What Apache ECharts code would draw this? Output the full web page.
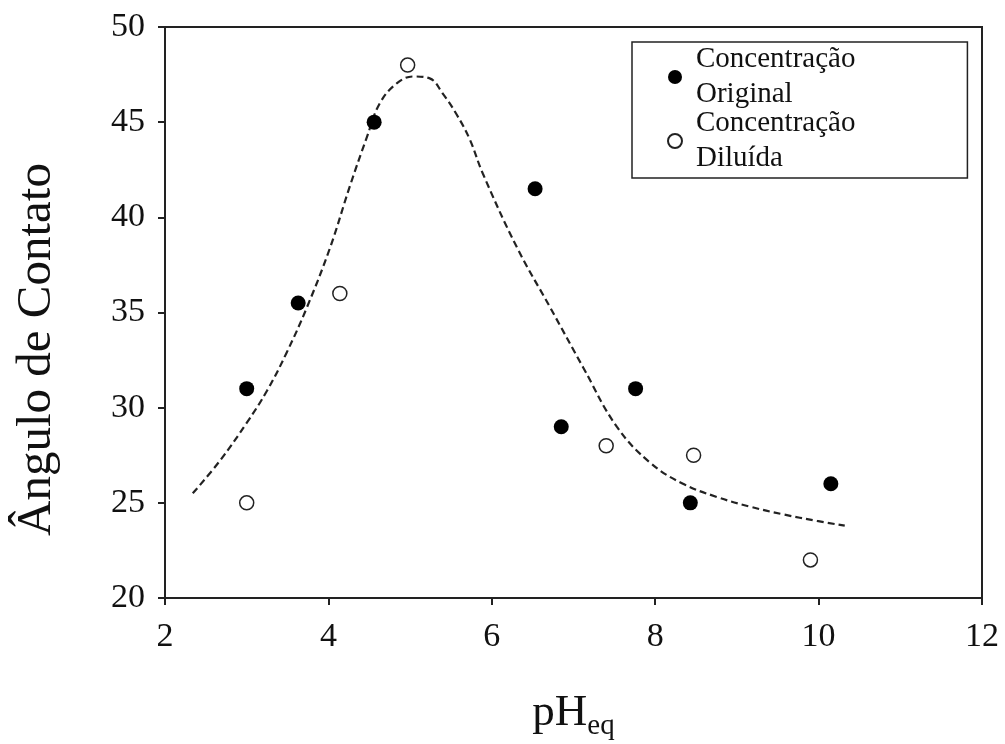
<!DOCTYPE html>
<html>
<head>
<meta charset="utf-8">
<script src="https://cdn.jsdelivr.net/npm/echarts@6/dist/echarts.min.js"></script>
<style>
  html, body { margin: 0; padding: 0; background: #fff; }
  #main { width: 1005px; height: 744px; }
</style>
</head>
<body>
<div id="main"></div>
<script>
// dados
var originalPH = [3.0, 3.63, 4.56, 6.53, 6.85, 7.76, 8.43, 10.15];
var originalAng = [31, 35.5, 45, 41.5, 29, 31, 25, 26];
var diluidaPH = [3.0, 4.14, 4.97, 7.40, 8.47, 9.9];
var diluidaAng = [25, 36, 48, 28, 27.5, 22];
// curva ajustada (tracejada)
var curvaPH = [2.34, 2.67, 3.0, 3.25, 3.49, 3.74, 4.02, 4.26, 4.47, 4.63, 4.84, 5.04, 5.24, 5.40, 5.57, 5.73, 5.89, 6.31, 6.71, 7.12, 7.53, 7.94, 8.34, 8.76, 9.16, 9.56, 9.98, 10.32];
var curvaAng = [25.5, 27.2, 29.2, 30.9, 32.9, 35.3, 38.4, 41.6, 44.2, 46.0, 47.05, 47.4, 47.3, 46.5, 45.4, 44.1, 42.3, 38.4, 35.3, 32.1, 29.0, 27.1, 26.0, 25.3, 24.8, 24.4, 24.05, 23.8];

function pares(xs, ys) {
  var out = [];
  for (var i = 0; i < xs.length; i++) out.push([xs[i], ys[i]]);
  return out;
}

var serif = 'Liberation Serif';
var chart = echarts.init(document.getElementById('main'));
var option = {
  backgroundColor: '#fff',
  animation: false,
  grid: {
    left: 165, right: 23, top: 27, bottom: 146,
    outerBoundsMode: 'none',
    show: true, borderColor: '#222', borderWidth: 2
  },
  legend: {
    orient: 'vertical',
    left: 632, top: 42,
    padding: [0, 112, 2, 35],
    itemGap: -6,
    itemWidth: 14, itemHeight: 14,
    borderColor: '#222', borderWidth: 1.5,
    textStyle: { fontFamily: serif, fontSize: 29, color: '#111', lineHeight: 35, padding: [0, 0, 0, 9] },
    formatter: function (name) {
      return name.replace(' ', '\n');
    },
    data: ['Concentração Original', 'Concentração Diluída']
  },
  xAxis: {
    type: 'value', min: 2, max: 12, interval: 2,
    name: '{a|pH}{b|eq}',
    nameLocation: 'middle', nameGap: 88,
    nameTextStyle: {
      rich: {
        a: { fontFamily: serif, fontSize: 45, color: '#111' },
        b: { fontFamily: serif, fontSize: 29, color: '#111', padding: [26, 0, 0, 0] }
      }
    },
    axisLine: { lineStyle: { color: '#222', width: 2 } },
    axisTick: { inside: false, length: 7, lineStyle: { color: '#222', width: 2 } },
    axisLabel: { fontFamily: serif, fontSize: 34, color: '#111', margin: 22 },
    splitLine: { show: false }
  },
  yAxis: {
    type: 'value', min: 20, max: 50, interval: 5,
    name: 'Ângulo de Contato',
    nameLocation: 'middle', nameGap: 103,
    nameTextStyle: { fontFamily: serif, fontSize: 49, color: '#111', padding: [0, 74, 0, 0] },
    axisLine: { lineStyle: { color: '#222', width: 2 } },
    axisTick: { inside: false, length: 7, lineStyle: { color: '#222', width: 2 } },
    axisLabel: { fontFamily: serif, fontSize: 34, color: '#111', margin: 20 },
    splitLine: { show: false }
  },
  series: [
    {
      name: 'curva', type: 'line', smooth: 0.4, showSymbol: false,
      data: pares(curvaPH, curvaAng),
      lineStyle: { color: '#222', width: 2.2, type: [7, 4] },
      z: 1
    },
    {
      name: 'Concentração Original', type: 'scatter', symbol: 'circle', symbolSize: 15,
      data: pares(originalPH, originalAng),
      itemStyle: { color: '#000', opacity: 1 },
      z: 3
    },
    {
      name: 'Concentração Diluída', type: 'scatter', symbol: 'circle', symbolSize: 14,
      data: pares(diluidaPH, diluidaAng),
      itemStyle: { color: '#fff', borderColor: '#222', borderWidth: 1.5, opacity: 1 },
      z: 3
    }
  ]
};
chart.setOption(option);
</script>
</body>
</html>
